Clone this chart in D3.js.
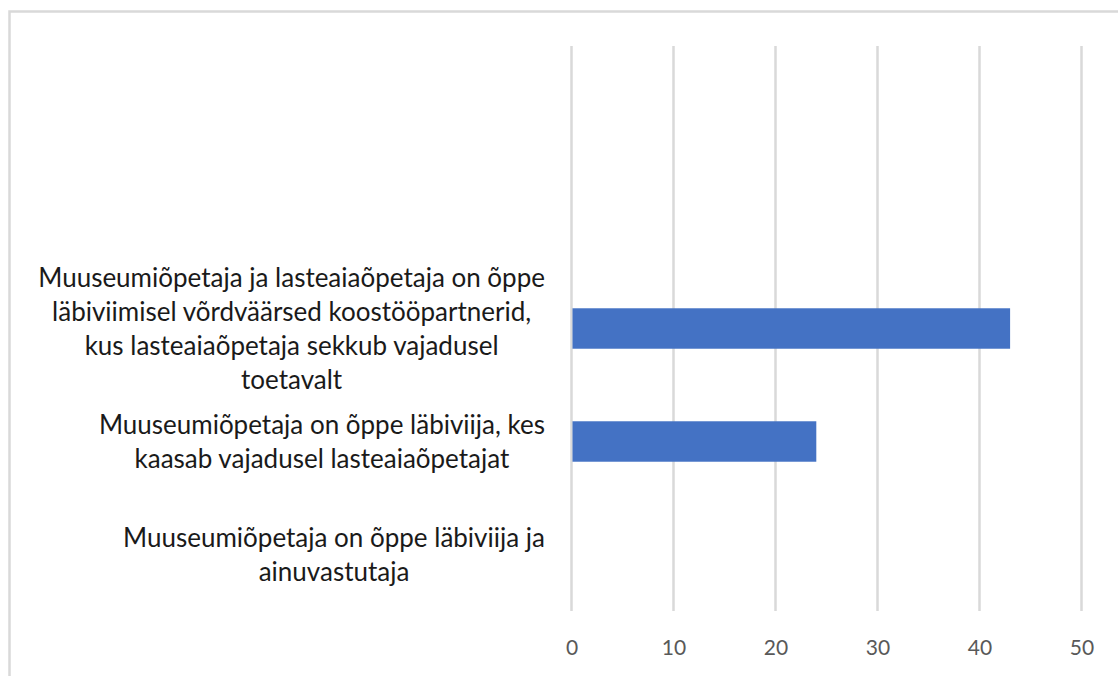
<!DOCTYPE html>
<html>
<head>
<meta charset="utf-8">
<script src="https://cdn.jsdelivr.net/npm/d3@7"></script>
<style>
    body { margin: 0; background: #fff; }
    svg { display: block; }
</style>
</head>
<body>
<svg id="chart" width="1118" height="676"></svg>
<script>
"use strict";

// Data (top to bottom); the two first rows are blank in the source
const categories = ['r1', 'r2', 'r3', 'r4', 'r5'];
const labelLines = [
    [],
    [],
    ['Muuseumiõpetaja ja lasteaiaõpetaja on õppe',
     'läbiviimisel võrdväärsed koostööpartnerid,',
     'kus lasteaiaõpetaja sekkub vajadusel',
     'toetavalt'],
    ['Muuseumiõpetaja on õppe läbiviija, kes',
     'kaasab vajadusel lasteaiaõpetajat'],
    ['Muuseumiõpetaja on õppe läbiviija ja',
     'ainuvastutaja']
];
const values = [0, 0, 43, 24, 0];
const xTicks = [0, 10, 20, 30, 40, 50];

function drawChart() {
    let svg = d3.select('#chart');

    // chart frame
    svg.append('rect')
        .attr('x', 9.5)
        .attr('y', 11.5)
        .attr('width', 1130)
        .attr('height', 700)
        .attr('fill', 'none')
        .attr('stroke', '#d9d9d9')
        .attr('stroke-width', 2.5);

    let x = d3.scaleLinear().domain([0, 50]).range([571.5, 1081.5]);
    let y = d3.scaleBand().domain(categories).range([46, 611])
        .paddingInner(0.642).paddingOuter(0.321);

    // gridlines
    svg.append('g').selectAll('line')
        .data(xTicks)
        .join('line')
        .attr('x1', d => x(d))
        .attr('x2', d => x(d))
        .attr('y1', 46)
        .attr('y2', 611)
        .attr('stroke', '#d9d9d9')
        .attr('stroke-width', 2.5);

    // bars
    svg.append('g').selectAll('rect')
        .data(categories.map((c, i) => ({ c: c, v: values[i] })).filter(d => d.v > 0))
        .join('rect')
        .attr('x', x(0) + 1)
        .attr('y', d => y(d.c))
        .attr('width', d => x(d.v) - x(0) - 1)
        .attr('height', y.bandwidth())
        .attr('fill', '#4472c4');

    // x axis labels
    let xAxis = svg.append('g')
        .attr('transform', 'translate(0,640)')
        .call(d3.axisBottom(x).tickValues(xTicks).tickSize(0).tickPadding(0));
    xAxis.select('.domain').remove();
    xAxis.selectAll('text')
        .attr('font-family', 'Lato, "Open Sans", sans-serif')
        .attr('font-size', 21)
        .attr('fill', '#595959')
        .attr('dy', '0.71em');

    // category labels: block right-aligned, lines centred inside
    let lineH = 34;
    let blockRight = 545;
    categories.forEach((c, i) => {
        let lines = labelLines[i];
        if (!lines.length) return;
        let cy = y(c) + y.bandwidth() / 2;
        let g = svg.append('g');
        let texts = g.selectAll('text')
            .data(lines)
            .join('text')
            .attr('y', (d, j) => cy + (j - (lines.length - 1) / 2) * lineH)
            .attr('dy', '0.35em')
            .attr('text-anchor', 'middle')
            .attr('font-family', 'Lato, "Open Sans", sans-serif')
            .attr('font-size', 26)
            .attr('fill', '#1a1a1a')
            .text(d => d);
        let maxW = d3.max(texts.nodes(), n => n.getComputedTextLength());
        texts.attr('x', blockRight - maxW / 2);
    });
}

drawChart();
</script>
</body>
</html>
